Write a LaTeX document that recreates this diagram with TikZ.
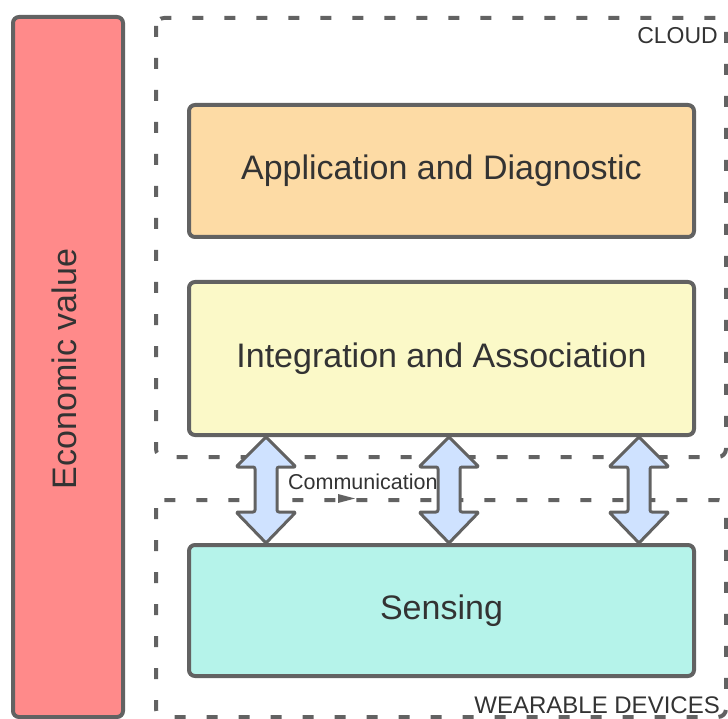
\documentclass[tikz,border=0pt]{standalone}
\usepackage{fontspec}
\setmainfont{Liberation Sans}
\definecolor{strk}{HTML}{626262}
\definecolor{txt}{HTML}{333333}
\definecolor{econfill}{HTML}{FF8A8A}
\definecolor{appfill}{HTML}{FDDBA5}
\definecolor{intfill}{HTML}{FBF9C8}
\definecolor{sensfill}{HTML}{B5F3EA}
\definecolor{arrfill}{HTML}{CFE2FF}
\begin{document}
\begin{tikzpicture}[x=1pt,y=-1pt,
  box/.style={draw=strk, line width=4pt, rounded corners=6pt, text=txt,
    font=\fontsize{34}{40}\selectfont, inner sep=0pt},
  zone/.style={draw=strk, line width=4pt, rounded corners=8pt,
    dash pattern=on 11pt off 21pt},
  zonelabel/.style={text=txt, font=\fontsize{23}{27}\selectfont, inner sep=0pt},
  blockarr/.style={draw=strk, fill=arrfill, line width=3pt, line join=round, rounded corners=2pt}]
\useasboundingbox (0,0) rectangle (728,719);
% zones
\draw[zone] (156,18) rectangle (726,457);
\draw[zone] (156,500) rectangle (726,717);
\node[zonelabel, anchor=base east] (cloud) at (718,44) {CLOUD};
\node[zonelabel, font=\fontsize{24}{28}\selectfont, anchor=base east] (wear) at (720,713) {WEARABLE DEVICES};
% economic value bar
\node[box, fill=econfill, minimum width=110pt, minimum height=700pt] (econ) at (68,367) {};
\node[text=txt, font=\fontsize{34}{40}\selectfont, rotate=90, inner sep=0pt] (econtxt) at (64,369) {Economic value};
% layers
\node[box, fill=appfill, minimum width=505pt, minimum height=132pt] (app) at (441.5,171) {Application and Diagnostic};
\node[box, fill=intfill, minimum width=505pt, minimum height=153pt] (int) at (441.5,358.5) {Integration and Association};
\node[box, fill=sensfill, minimum width=505pt, minimum height=131pt] (sens) at (441.5,610.5) {Sensing};
% communication arrows
\foreach \c in {266,449,639}{
  \draw[blockarr] (\c,437) -- (\c+30,467) -- (\c+11,467) -- (\c+11,512) -- (\c+30,512) -- (\c,543)
    -- (\c-30,512) -- (\c-11,512) -- (\c-11,467) -- (\c-30,467) -- cycle;
}
\node[text=txt, font=\fontsize{21.5}{25}\selectfont, inner sep=0pt, anchor=base west] (comm) at (288,489) {Communication};
\fill[strk] (338,494) -- (355,498.5) -- (338,503) -- cycle;
\end{tikzpicture}
\end{document}
